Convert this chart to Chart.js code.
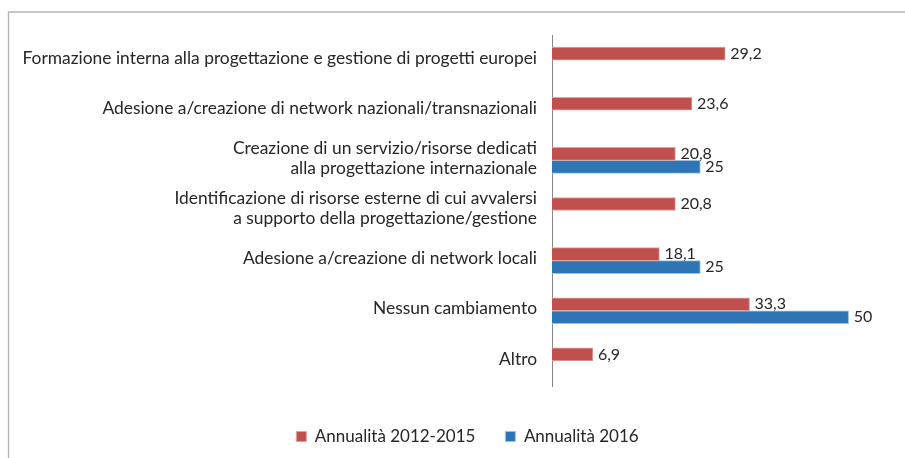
<!DOCTYPE html>
<html>
<head>
<meta charset="utf-8">
<script src="https://cdn.jsdelivr.net/npm/chart.js@4.4.1/dist/chart.umd.min.js"></script>
<style>
	body { margin: 0; background: #fff; }
	#wrap { width: 905px; height: 458px; }
</style>
</head>
<body>
<div id="wrap"><canvas id="Chart_cambiamenti" width="905" height="458"></canvas></div>
<script>

var categories = [
	'Formazione interna alla progettazione e gestione di progetti europei',
	'Adesione a/creazione di network nazionali/transnazionali',
	['Creazione di un servizio/risorse dedicati', 'alla progettazione internazionale'],
	['Identificazione di risorse esterne di cui avvalersi', 'a supporto della progettazione/gestione'],
	'Adesione a/creazione di network locali',
	'Nessun cambiamento',
	'Altro'
];
var series_labels = ['Annualità 2012-2015', 'Annualità 2016'];
var values_2012_2015 = [29.2, 23.6, 20.8, 20.8, 18.1, 33.3, 6.9];
var values_2016 = [null, null, 25, null, 25, 50, null];

var FONT = 'Lato, "Open Sans", sans-serif';

// numeri alla fine delle barre, con la virgola decimale
var barValues = {
	id: 'barValues',
	afterDatasetsDraw: function(chart) {
		var ctx = chart.ctx;
		ctx.save();
		ctx.font = '16px ' + FONT;
		ctx.fillStyle = '#262626';
		ctx.textAlign = 'left';
		ctx.textBaseline = 'middle';
		chart.data.datasets.forEach(function(ds, i) {
			var meta = chart.getDatasetMeta(i);
			meta.data.forEach(function(bar, j) {
				var v = ds.data[j];
				if (v === null) return;
				ctx.fillText(String(v).replace('.', ','), bar.x + 5, bar.y);
			});
		});
		ctx.restore();
	}
};

// cornice grigia del riquadro + legenda spostata un po' in basso a destra
var frame = {
	id: 'frame',
	afterLayout: function(chart) {
		chart.legend.left += 11;
		chart.legend.right += 11;
		chart.legend.top += 12;
		chart.legend.bottom += 12;
	},
	beforeDraw: function(chart) {
		var ctx = chart.ctx;
		ctx.save();
		ctx.strokeStyle = '#b4b4b4';
		ctx.lineWidth = 1.3;
		ctx.beginPath();
		ctx.moveTo(8.5, chart.height);
		ctx.lineTo(8.5, 12);
		ctx.lineTo(chart.width, 12);
		ctx.stroke();
		ctx.restore();
	}
};

var ctx1 = document.getElementById('Chart_cambiamenti');
var barChart = new Chart(ctx1, {
	type: 'bar',
	data: {
		labels: categories,
		datasets: [{
			label: series_labels[0],
			data: values_2012_2015,
			backgroundColor: '#c0504d',
			borderColor: '#dfa3a2',
			borderWidth: 1
		},
		{
			label: series_labels[1],
			data: values_2016,
			backgroundColor: '#2e75b6',
			borderColor: '#9cc0e3',
			borderWidth: 1
		}]
	},
	options: {
		indexAxis: 'y',
		responsive: false,
		animation: false,
		barThickness: 13,
		layout: {
			padding: { top: 35, left: 8, right: 0, bottom: 15 }
		},
		scales: {
			x: {
				display: false,
				min: 0,
				max: 59.5
			},
			y: {
				afterFit: function(scale) {
					scale.width = 544;
				},
				grid: { display: false, drawTicks: false },
				border: { display: true, color: '#868686', width: 1 },
				ticks: {
					padding: 15,
					labelOffset: -2,
					color: '#262626',
					font: { family: FONT, size: 17.4, lineHeight: 1.15 }
				}
			}
		},
		plugins: {
			tooltip: { enabled: false },
			legend: {
				position: 'bottom',
				labels: {
					boxWidth: 10,
					boxHeight: 10,
					padding: 30,
					color: '#262626',
					font: { family: FONT, size: 17 }
				}
			}
		}
	},
	plugins: [barValues, frame]
});

</script>
</body>
</html>
